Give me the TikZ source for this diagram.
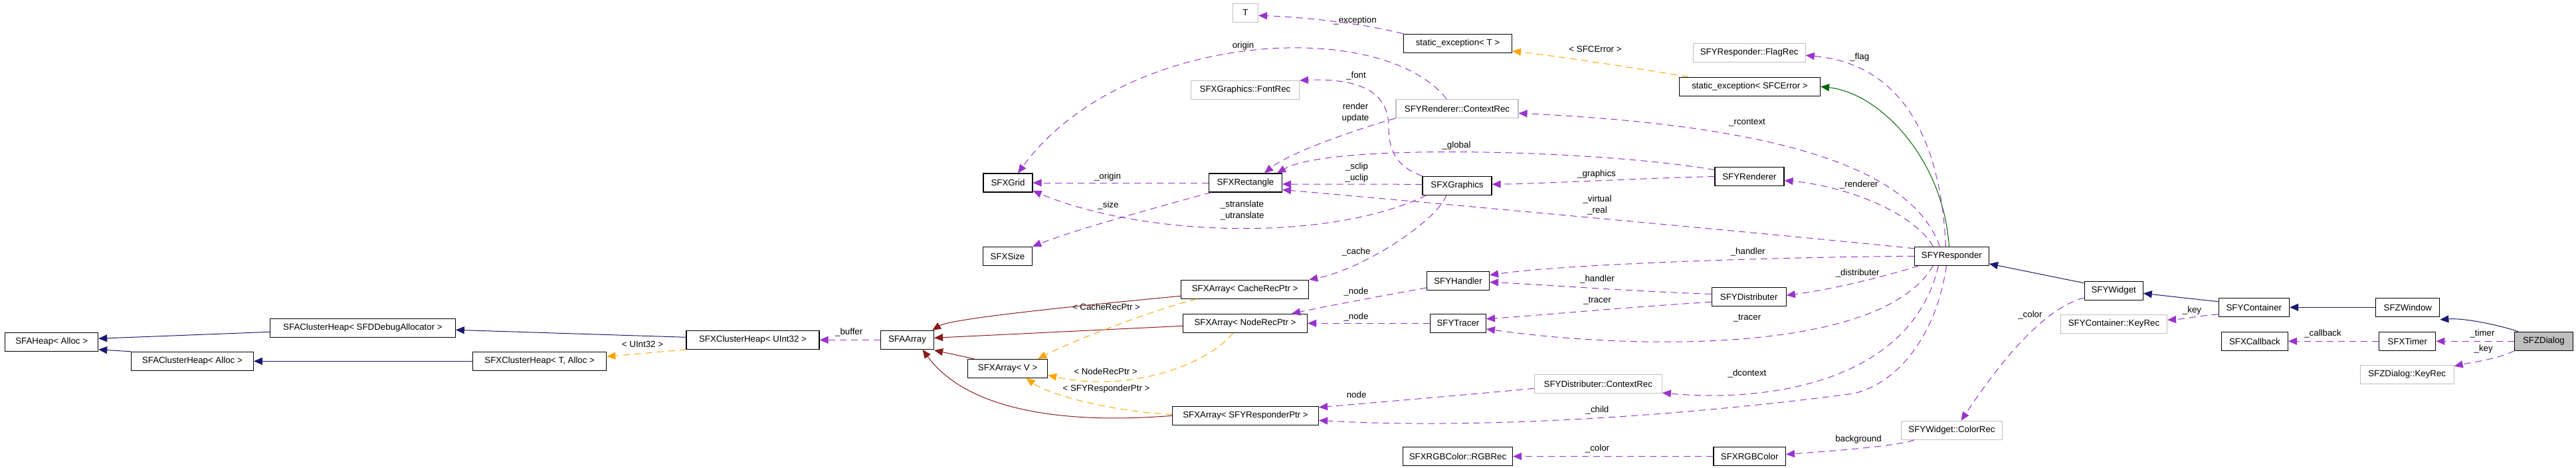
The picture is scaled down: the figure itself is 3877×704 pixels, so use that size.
\documentclass[tikz,border=0pt]{standalone}
\usepackage{fontspec}
\setmainfont{Liberation Sans}
\usetikzlibrary{arrows.meta,calc}
\definecolor{usecol}{HTML}{9A32CD}
\definecolor{tplcol}{HTML}{FFA500}
\definecolor{pubcol}{HTML}{191970}
\definecolor{procol}{HTML}{8B1A1A}
\definecolor{pricol}{HTML}{006400}
\definecolor{bgray}{HTML}{BFBFBF}
\newcommand{\dgfont}{\fontsize{13.3}{17}\selectfont}
\begin{document}
\begin{tikzpicture}[x=1pt,y=-1pt,
 cls/.style={rectangle,draw=black,line width=1.1pt,minimum height=28pt,inner sep=0pt,font=\dgfont},
 ext/.style={cls,draw=bgray},
 lbl/.style={font=\dgfont,inner sep=0pt,align=center},
 arrowhd/.style={-{Triangle[length=13pt,width=11pt]}},
 uedge/.style={draw=usecol,line width=1pt,dash pattern=on 10pt off 7pt,arrowhd},
 tedge/.style={draw=tplcol,line width=1pt,dash pattern=on 10pt off 7pt,arrowhd},
 pubedge/.style={draw=pubcol,line width=1pt,arrowhd},
 proedge/.style={draw=procol,line width=1pt,arrowhd},
 priedge/.style={draw=pricol,line width=1pt,arrowhd}]
\fill[white] (0,0) rectangle (3877,704);
\useasboundingbox (0,0) rectangle (3877,704);

% ---------- nodes ----------
\node[ext,minimum width=38pt] (T) at (1874.5,19.3) {T};
\node[cls,minimum width=163pt] (stT) at (2194,65.3) {static\_exception< T >};
\node[cls,minimum width=212pt] (stE) at (2633.5,130.3) {static\_exception< SFCError >};
\node[ext,minimum width=169pt] (flag) at (2632.7,79.3) {SFYResponder::FlagRec};
\node[ext,minimum width=163pt] (font) at (1874,135.5) {SFXGraphics::FontRec};
\node[ext,minimum width=184pt] (rctx) at (2193,163.3) {SFYRenderer::ContextRec};
\node[cls,minimum width=74pt] (grid) at (1517,275) {SFXGrid};
\node[cls,minimum width=110pt] (rect) at (1874.5,275) {SFXRectangle};
\node[cls,minimum width=104pt] (gfx) at (2193,279.3) {SFXGraphics};
\node[cls,minimum width=104pt] (rend) at (2633,265.5) {SFYRenderer};
\node[cls,minimum width=74pt] (size) at (1516.5,385.3) {SFXSize};
\node[cls,minimum width=112pt] (resp) at (2937.4,385.3) {SFYResponder};
\node[cls,minimum width=192pt] (acache) at (1873.6,435.3) {SFXArray< CacheRecPtr >};
\node[cls,minimum width=94pt] (hand) at (2194.5,422.3) {SFYHandler};
\node[cls,minimum width=88pt] (widget) at (3181.2,437.3) {SFYWidget};
\node[cls,minimum width=106.5pt] (cont) at (3392.3,462.3) {SFYContainer};
\node[cls,minimum width=96pt] (win) at (3623.8,462.3) {SFZWindow};
\node[cls,minimum width=88pt,fill=bgray] (dlg) at (3828.4,513.3) {SFZDialog};
\node[cls,minimum width=140pt] (heap) at (77.7,514.3) {SFAHeap< Alloc >};
\node[cls,minimum width=278.5pt] (dbg) at (546,493.3) {SFAClusterHeap< SFDDebugAllocator >};
\node[cls,minimum width=184pt] (ach) at (289.4,543.3) {SFAClusterHeap< Alloc >};
\node[cls,minimum width=201pt] (xchT) at (812.2,543.3) {SFXClusterHeap< T, Alloc >};
\node[cls,minimum width=200pt] (xchU) at (1133,511.3) {SFXClusterHeap< UInt32 >};
\node[cls,minimum width=80pt] (aarr) at (1365.5,511.3) {SFAArray};
\node[cls,minimum width=187pt] (anode) at (1874,486.3) {SFXArray< NodeRecPtr >};
\node[cls,minimum width=84pt] (tracer) at (2194.4,486.3) {SFYTracer};
\node[cls,minimum width=112pt] (dist) at (2632.2,446.3) {SFYDistributer};
\node[ext,minimum width=160pt] (ckey) at (3181.5,487.3) {SFYContainer::KeyRec};
\node[cls,minimum width=100pt] (callb) at (3393.4,513.3) {SFXCallback};
\node[cls,minimum width=85pt] (timer) at (3623.3,513.3) {SFXTimer};
\node[ext,minimum width=141pt] (dkey) at (3622.7,563.3) {SFZDialog::KeyRec};
\node[cls,minimum width=120pt] (av) at (1516.6,554.3) {SFXArray< V >};
\node[ext,minimum width=192pt] (dctx) at (2405.3,577.3) {SFYDistributer::ContextRec};
\node[cls,minimum width=220pt] (aresp) at (1874.5,625.3) {SFXArray< SFYResponderPtr >};
\node[ext,minimum width=152pt] (ccol) at (2937.5,647.3) {SFYWidget::ColorRec};
\node[cls,minimum width=165pt] (rgbrec) at (2194,686.5) {SFXRGBColor::RGBRec};
\node[cls,minimum width=108.5pt] (rgb) at (2633.2,686.5) {SFXRGBColor};

% ---------- labels ----------
\node[lbl] (lexc) at (2039.5,31) {\_exception};
\node[lbl] (lsfce) at (2401,74) {< SFCError >};
\node[lbl] (lflag) at (2798.7,86) {\_flag};
\node[lbl] (lorig) at (1871,69) {origin};
\node[lbl] (lfont) at (2041,114) {\_font};
\node[lbl] (lrend) at (2040,170) {render\\update};
\node[lbl] (lrctx) at (2629.5,185) {\_rcontext};
\node[lbl] (lglob) at (2192,219) {\_global};
\node[lbl] (lclip) at (2042,260) {\_sclip\\\_uclip};
\node[lbl] (lgfx) at (2403,262.5) {\_graphics};
\node[lbl] (lorg2) at (1667,266) {\_origin};
\node[lbl] (lrendr) at (2797.8,278) {\_renderer};
\node[lbl] (lvirt) at (2404,308) {\_virtual\\\_real};
\node[lbl] (lsize) at (1668,309) {\_size};
\node[lbl] (ltrans) at (1869.5,316) {\_stranslate\\\_utranslate};
\node[lbl] (lcache) at (2041,379) {\_cache};
\node[lbl] (lhand1) at (2630.7,379) {\_handler};
\node[lbl] (ldist) at (2795.7,411) {\_distributer};
\node[lbl] (lhand2) at (2404,420) {\_handler};
\node[lbl] (lnode1) at (2041,439) {\_node};
\node[lbl] (ltr1) at (2404,453) {\_tracer};
\node[lbl] (lnode2) at (2041,477) {\_node};
\node[lbl] (ltr2) at (2629.5,479) {\_tracer};
\node[lbl] (lcol1) at (3055.4,474) {\_color};
\node[lbl] (lkey1) at (3299,467) {\_key};
\node[lbl] (lcb) at (3496,502) {\_callback};
\node[lbl] (ltim) at (3736,502) {\_timer};
\node[lbl] (lkey2) at (3737.7,525) {\_key};
\node[lbl] (lbuf) at (1277.7,500) {\_buffer};
\node[lbl] (lu32) at (967,518) {< UInt32 >};
\node[lbl] (lcrp) at (1665,462) {< CacheRecPtr >};
\node[lbl] (lnrp) at (1664,559) {< NodeRecPtr >};
\node[lbl] (lsrp) at (1665,585) {< SFYResponderPtr >};
\node[lbl] (ldctx) at (2629.5,562) {\_dcontext};
\node[lbl] (lnode3) at (2041.6,594) {node};
\node[lbl] (lchild) at (2404,617) {\_child};
\node[lbl] (lbg) at (2797,661) {background};
\node[lbl] (lcol2) at (2404,675) {\_color};

% ---------- edges ----------
\draw[uedge] (stT.north west) .. controls (2040,33) and (1960,26) .. ($(T.east)+(0,4)$);
\draw[tedge] ($(stE.north west)+(14,0)$) .. controls (2460,102) and (2340,84) .. ($(stT.south east)+(0,-3)$);
\draw[priedge] ($(resp.north)+(-4,0)$) .. controls (2925,240) and (2830,140) .. (stE.east);
\draw[uedge] ($(resp.north)+(-9,0)$) .. controls (2920,190) and (2850,95) .. ($(flag.east)+(0,4)$);
\draw[uedge] ($(resp.north)+(-18,0)$) .. controls (2880,260) and (2700,190) .. ($(rctx.east)+(0,7)$);
\draw[uedge] ($(resp.north)+(-28,0)$) .. controls (2880,320) and (2780,280) .. ($(rend.east)+(0,6)$);
\draw[uedge] ($(rend.west)+(0,-10)$) .. controls (2400,225) and (2000,215) .. ($(rect.north east)+(-8,0)$);
\draw[uedge] (rend.west) .. controls (2470,268) and (2330,276) .. ($(gfx.east)+(0,-2)$);
\draw[uedge] ($(gfx.west)+(0,-2)$) -- ($(rect.east)+(0,2)$);
\draw[uedge] ($(resp.north west)+(0,3)$) .. controls (2700,355) and (2100,300) .. ($(rect.south east)+(0,-4)$);
\draw[uedge] (rect.west) -- (grid.east);
\draw[uedge] ($(rect.south west)+(4,0)$) .. controls (1740,312) and (1620,345) .. (size.north east);
\draw[uedge] ($(gfx.south west)+(6,0)$) .. controls (2000,365) and (1720,356) .. ($(grid.east)+(0,12)$);
\draw[uedge] ($(rctx.north)+(-16,0)$) .. controls (2080,25) and (1690,45) .. ($(grid.north)+(15,0)$);
\draw[uedge] (rctx.south west) .. controls (2040,195) and (1940,230) .. ($(rect.north east)+(-27,0)$);
\draw[uedge] (gfx.north west) .. controls (2100,250) and (2090,225) .. (2090,190) .. controls (2090,130) and (2030,118) .. (font.north east);
\draw[uedge] ($(gfx.south)+(-16,0)$) .. controls (2160,335) and (2050,405) .. (acache.north east);
\draw[uedge] ($(hand.south west)+(0,-4)$) .. controls (2080,445) and (2000,460) .. ($(anode.north east)+(-24,0)$);
\draw[uedge] (tracer.west) -- (anode.east);
\draw[uedge] (resp.west) .. controls (2650,387) and (2350,398) .. ($(hand.north east)+(0,6)$);
\draw[uedge] ($(dist.west)+(0,-4)$) .. controls (2450,438) and (2320,428) .. ($(hand.east)+(0,2)$);
\draw[uedge] ($(dist.west)+(0,8)$) .. controls (2450,462) and (2320,474) .. ($(tracer.north east)+(0,8)$);
\draw[uedge] ($(resp.south west)+(7,0)$) .. controls (2840,415) and (2760,435) .. ($(dist.east)+(0,-2)$);
\draw[uedge] ($(resp.south)+(-28,0)$) .. controls (2830,535) and (2450,525) .. ($(tracer.south east)+(0,-6)$);
\draw[uedge] ($(resp.south)+(-20,0)$) .. controls (2875,580) and (2650,605) .. ($(dctx.south east)+(0,-1)$);
\draw[uedge] ($(resp.south)+(-8,0)$) .. controls (2915,500) and (2860,575) .. (2790,592) .. controls (2500,630) and (2200,645) .. ($(aresp.east)+(0,7)$);
\draw[uedge] ($(dctx.west)+(0,7)$) .. controls (2250,590) and (2100,603) .. ($(aresp.north east)+(0,2)$);
\draw[uedge] (rgb.west) -- (rgbrec.east);
\draw[uedge] ($(ccol.south west)+(20,0)$) .. controls (2850,672) and (2760,678) .. ($(rgb.east)+(0,-3)$);
\draw[uedge] ($(widget.south west)+(0,-4)$) .. controls (3070,465) and (3000,560) .. ($(ccol.north)+(14,0)$);
\draw[pubedge] ($(widget.north west)+(0,3)$) -- ($(resp.south east)+(0,-3)$);
\draw[pubedge] ($(cont.north west)+(0,6)$) -- ($(widget.east)+(0,4)$);
\draw[uedge] ($(cont.south west)+(0,-4)$) .. controls (3310,475) and (3285,480) .. ($(ckey.east)+(0,-6)$);
\draw[pubedge] (win.west) -- (cont.east);
\draw[pubedge] ($(dlg.north west)+(6,0)$) .. controls (3765,490) and (3710,478) .. ($(win.south east)+(0,4)$);
\draw[uedge] (dlg.west) -- (timer.east);
\draw[uedge] (dlg.south west) .. controls (3760,540) and (3720,545) .. ($(dkey.north east)+(0,2)$);
\draw[uedge] (timer.west) -- (callb.east);
\draw[pubedge] ($(dbg.west)+(0,6)$) -- ($(heap.east)+(0,-5)$);
\draw[pubedge] (ach.north west) -- ($(heap.south east)+(0,-3)$);
\draw[pubedge] (xchT.west) -- (ach.east);
\draw[pubedge] ($(xchU.west)+(0,-4)$) -- ($(dbg.east)+(0,3)$);
\draw[tedge] (xchU.south west) -- ($(xchT.east)+(0,-7)$);
\draw[uedge] (aarr.west) -- (xchU.east);
\draw[proedge] ($(acache.west)+(0,10)$) .. controls (1600,462) and (1430,480) .. ($(aarr.north east)+(-3,0)$);
\draw[proedge] ($(anode.west)+(0,4)$) -- ($(aarr.east)+(0,-3)$);
\draw[proedge] ($(av.north west)+(10,0)$) -- ($(aarr.south east)+(0,1)$);
\draw[proedge] (aresp.west) .. controls (1580,640) and (1450,610) .. ($(aarr.south)+(23,0)$);
\draw[tedge] ($(acache.south west)+(24,0)$) .. controls (1740,465) and (1620,510) .. ($(av.north east)+(-15,0)$);
\draw[tedge] ($(anode.south)+(-18,0)$) .. controls (1810,555) and (1690,590) .. ($(av.east)+(0,10)$);
\draw[tedge] ($(aresp.west)+(0,-2)$) .. controls (1680,620) and (1580,595) .. ($(av.south)+(28,0)$);
\end{tikzpicture}
\end{document}
